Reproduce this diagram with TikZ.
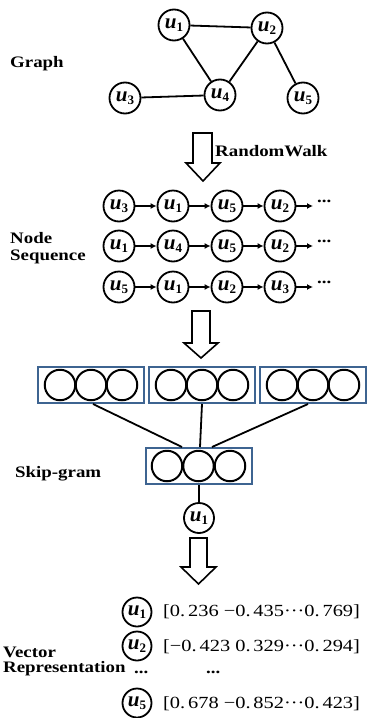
\documentclass[tikz,border=0pt]{standalone}
\usepackage{fontspec}
\setmainfont{Liberation Serif}
\newfontfamily\labfont[FakeStretch=1.18]{Liberation Serif}
\newfontfamily\numfont[FakeStretch=1.2]{Liberation Serif}
\usetikzlibrary{arrows.meta,calc}
\definecolor{boxblue}{HTML}{3E6491}
% vertex label: bold italic u with a bold index
\newcommand\ulab[1]{{\fontsize{21}{21}\selectfont\bfseries\itshape u}\raisebox{-3pt}{\fontsize{13}{13}\selectfont\bfseries #1}}
\tikzset{
  vert/.style={circle, draw, line width=1.8pt, minimum size=31pt, inner sep=0pt},
  vsmall/.style={vert, minimum size=29pt},
  unit/.style={circle, draw, line width=2pt, minimum size=30.5pt, inner sep=0pt},
  layer/.style={draw=boxblue, line width=2pt, minimum width=106pt, minimum height=36pt, inner sep=0pt},
  lab/.style={font=\labfont\fontsize{16}{16}\selectfont\bfseries, inner sep=0pt, anchor=base west},
  vec/.style={font=\numfont\fontsize{17}{17}\selectfont, inner sep=0pt, anchor=west},
  edge/.style={line width=1.8pt},
  seq/.style={line width=1.6pt, -{Latex[length=6pt,width=6pt]}},
  hollow/.style={draw, line width=1.6pt, fill=white, line join=miter},
}
\begin{document}
\begin{tikzpicture}[x=1pt,y=-1pt]
\useasboundingbox (0,0) rectangle (367,718);

% ---- graph ----
\node[lab] (tgraph) at (10,67) {Graph};
\node[vert] (g1) at (174,25) {\ulab{1}};
\node[vert] (g2) at (267,28) {\ulab{2}};
\node[vert] (g4) at (220,95) {\ulab{4}};
\node[vert] (g3) at (125,98) {\ulab{3}};
\node[vert] (g5) at (303,98) {\ulab{5}};
\draw[edge] (g1) -- (g2);
\draw[edge] (g1) -- (g4);
\draw[edge] (g2) -- (g4);
\draw[edge] (g3) -- (g4);
\draw[edge] (g2) -- (g5);

% ---- random walk ----
\draw[hollow] (193,133) -- (212,133) -- (212,163) -- (220,163) -- (203,181) -- (186,163) -- (193,163) -- cycle;
\node[lab] (trw) at (215,156) {RandomWalk};

% ---- node sequences ----
\node[lab] (tnode) at (10,243) {Node};
\node[lab] (tseq) at (10,260) {Sequence};
\foreach \r/\y/\a/\b/\c/\d in {1/206/3/1/5/2, 2/246/1/4/5/2, 3/287/5/1/2/3}{
  \node[vert] (s\r a) at (119,\y) {\ulab{\a}};
  \node[vert] (s\r b) at (173,\y) {\ulab{\b}};
  \node[vert] (s\r c) at (227,\y) {\ulab{\c}};
  \node[vert] (s\r d) at (280,\y) {\ulab{\d}};
  \coordinate (s\r e) at (313,\y);
  \draw[seq] (s\r a) -- (s\r b);
  \draw[seq] (s\r b) -- (s\r c);
  \draw[seq] (s\r c) -- (s\r d);
  \draw[seq] (s\r d) -- (s\r e);
  \node[lab] (s\r dots) at (317,\y-4) {...};
}

% ---- skip-gram ----
\draw[hollow] (192,311) -- (210,311) -- (210,343) -- (218,343) -- (201,358) -- (184,343) -- (192,343) -- cycle;
\foreach \k/\x in {1/91, 2/202, 3/313}{
  \node[layer] (ctx\k) at (\x,385) {};
  \node[unit] (ctx\k a) at (\x-31,385) {};
  \node[unit] (ctx\k b) at (\x,385) {};
  \node[unit] (ctx\k c) at (\x+31,385) {};
}
\node[layer] (hid) at (199,466) {};
\node[unit] (hida) at (167,466) {};
\node[unit] (hidb) at (198.5,466) {};
\node[unit] (hidc) at (230,466) {};
\node[lab] (tsg) at (15,477) {Skip-gram};
\coordinate (in1) at ($(hid.north)+(-17,0)$);
\coordinate (in2) at ($(hid.north)+(1,0)$);
\coordinate (in3) at ($(hid.north)+(13,0)$);
\draw[edge] ($(ctx1.south)+(2,0)$) -- (in1);
\draw[edge] (ctx2.south) -- (in2);
\draw[edge] ($(ctx3.south)+(-5,0)$) -- (in3);
\node[vert, minimum size=30pt] (u) at (199,518) {\ulab{1}};
\draw[edge] (hid.south) -- (u);

% ---- vector representation ----
\draw[hollow] (190,538) -- (207,538) -- (207,567) -- (216,567) -- (198.5,584) -- (181,567) -- (190,567) -- cycle;
\node[lab] (tvec) at (3,657) {Vector};
\node[lab] (trep) at (3,672) {Representation};
\node[lab] (ldots) at (134,673) {...};
\node[lab] (mdots) at (206,673) {...};
\node[vsmall] (v1) at (137,612) {\ulab{1}};
\node[vsmall] (v2) at (137,646) {\ulab{2}};
\node[vsmall] (v5) at (137,703) {\ulab{5}};
\node[vec] (e1) at (163,612) {[0.\,236 −0.\,435···0.\,769]};
\node[vec] (e2) at (163,647) {[−0.\,423 0.\,329···0.\,294]};
\node[vec] (e5) at (163,704) {[0.\,678 −0.\,852···0.\,423]};
\end{tikzpicture}
\end{document}
